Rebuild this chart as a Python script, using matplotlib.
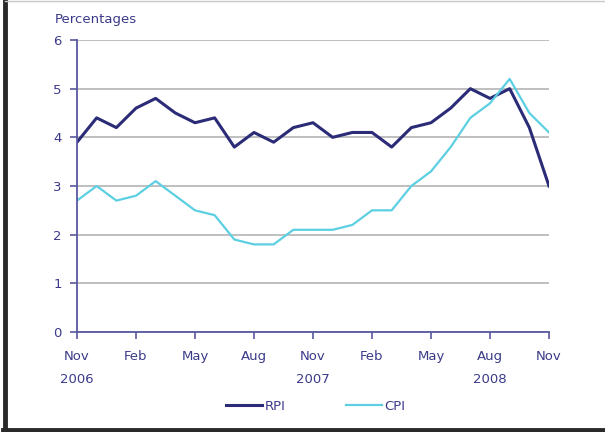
import matplotlib
matplotlib.use('Agg')
import matplotlib.pyplot as plt
from matplotlib.lines import Line2D

# monthly values, Nov 2006 .. Nov 2008
rpi = [3.9, 4.4, 4.2, 4.6, 4.8, 4.5, 4.3, 4.4, 3.8, 4.1, 3.9, 4.2, 4.3,
       4.0, 4.1, 4.1, 3.8, 4.2, 4.3, 4.6, 5.0, 4.8, 5.0, 4.2, 3.0]
cpi = [2.7, 3.0, 2.7, 2.8, 3.1, 2.8, 2.5, 2.4, 1.9, 1.8, 1.8, 2.1, 2.1,
       2.1, 2.2, 2.5, 2.5, 3.0, 3.3, 3.8, 4.4, 4.7, 5.2, 4.5, 4.1]
month_labels = ['Nov', 'Feb', 'May', 'Aug', 'Nov', 'Feb', 'May', 'Aug', 'Nov']
years = ['2006', '2007', '2008']
year_pos = [0, 12, 21]

navy = '#2b2b78'
cyan = '#5cd0e2'
txt = '#3b3b8a'
spine = '#5858a0'

plt.rcParams['font.family'] = 'DejaVu Sans'
fig = plt.figure(figsize=(6.05, 4.32), dpi=100)
ax = fig.add_axes([77/605, 100/432, 472/605, 292/432])

x = list(range(len(rpi)))
ax.plot(x, rpi, color=navy, lw=2.2, label='RPI', solid_joinstyle='round')
ax.plot(x, cpi, color=cyan, lw=1.6, label='CPI', solid_joinstyle='round')

ax.set_xlim(0, 24)
ax.set_ylim(0, 6)
ax.set_yticks(range(7))
ax.set_xticks(range(0, 25, 3))
ax.set_xticklabels(month_labels)
ax.yaxis.grid(True, color='#b4b4b4', lw=1.2)
ax.set_axisbelow(True)
for s in ['top', 'right']:
    ax.spines[s].set_visible(False)
for s in ['left', 'bottom']:
    ax.spines[s].set_color(spine)
    ax.spines[s].set_linewidth(1.3)
ax.tick_params(colors=spine, labelcolor=txt, labelsize=9.5, length=5, width=1.2)
ax.tick_params(axis='x', pad=8)
ax.tick_params(axis='y', pad=6)

for y, p in zip(years, year_pos):
    ax.text(p, -0.98, y, transform=ax.transData, ha='center', va='center',
            color=txt, fontsize=9.5)
fig.text(55/605, 1 - 19/432, 'Percentages', color=txt, fontsize=9.5, va='center')

fig.legend(loc='center', bbox_to_anchor=(316/605, 1 - 406/432), ncol=2,
           frameon=False, fontsize=9.5, handlelength=2.7, columnspacing=4.6,
           handletextpad=0.2, labelcolor=txt)

# frame: dark left and bottom, faint top
fig.lines.append(Line2D([5/605, 5/605], [1/432, 1], transform=fig.transFigure,
                        color='#2a2a2a', lw=3.5))
fig.lines.append(Line2D([3/605, 1], [2.5/432, 2.5/432], transform=fig.transFigure,
                        color='#2a2a2a', lw=3.5))
fig.lines.append(Line2D([5/605, 1], [431.5/432, 431.5/432], transform=fig.transFigure,
                        color='#c8c8c8', lw=1))

fig.savefig('out.png', dpi=100)
